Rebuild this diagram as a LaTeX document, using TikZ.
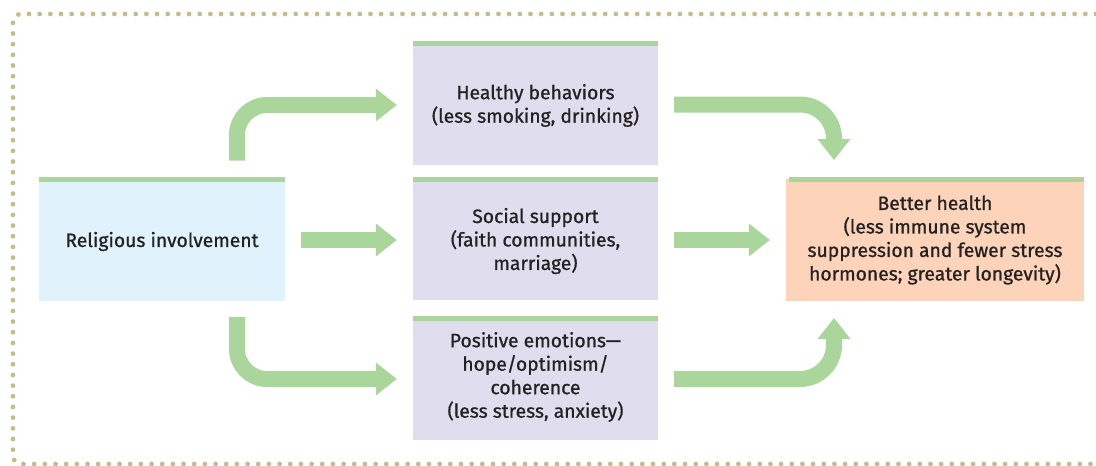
\documentclass[tikz,border=0pt]{standalone}
\usepackage{fontspec}
\setmainfont{Fira Sans}[FakeBold=0.9]
\usetikzlibrary{arrows.meta}
\definecolor{dotcol}{RGB}{196,188,138}
\definecolor{bargreen}{RGB}{171,214,155}
\definecolor{bluefill}{RGB}{224,242,251}
\definecolor{purplefill}{RGB}{224,221,238}
\definecolor{peachfill}{RGB}{253,211,185}
\definecolor{txt}{RGB}{35,33,33}
\tikzset{
  boxbase/.style={inner sep=0pt, align=center, text=txt,
    font=\fontsize{19.3pt}{23.5pt}\selectfont},
  bluebox/.style={boxbase, fill=bluefill},
  purplebox/.style={boxbase, fill=purplefill},
  peachbox/.style={boxbase, fill=peachfill},
  bigarrow/.style={draw=bargreen, line width=16pt,
    -{Triangle[width=33pt 0 0,length=21pt 0 0,line width=0pt,fill=bargreen]}},
  dotline/.style={draw=dotcol, line width=4.8pt, line cap=round,
    dash pattern=on 0pt off 10.67pt, rounded corners=8pt}
}
\begin{document}
\begin{tikzpicture}[x=1pt,y=-1pt]
\useasboundingbox (0,0) rectangle (1096,466);
% dotted frame
\draw[dotline] (1096,14) -- (13,14) -- (13,464) -- (1096,464);

% boxes
\node[bluebox, minimum width=246pt, minimum height=119pt] (ri) at (162,241.5) {Religious involvement};
\fill[bargreen] (39,176.5) rectangle (285,182);

\node[purplebox, minimum width=245pt, minimum height=119pt] (hb) at (535.5,105.5) {Healthy behaviors\\(less smoking, drinking)};
\fill[bargreen] (413,41) rectangle (658,46);

\node[purplebox, minimum width=245pt, minimum height=118pt] (ss) at (535.5,241) {Social support\\(faith communities,\\marriage)};
\fill[bargreen] (413,176.5) rectangle (658,182);

\node[purplebox, minimum width=245pt, minimum height=119pt] (pe) at (535.5,380.5) {};
\node[boxbase] (pet) at (535.5,377) {Positive emotions—\\hope/optimism/\\coherence\\(less stress, anxiety)};
\fill[bargreen] (413,315.5) rectangle (658,321);

\node[peachbox, minimum width=298pt, minimum height=122pt] (bh) at (935,240) {Better health\\(less immune system\\suppression and fewer stress\\hormones; greater longevity)};
\fill[bargreen] (789,176.5) rectangle (1084,182);

% connector ends
\coordinate (s1) at (237,160.5);
\coordinate (s4) at (237,317);
\coordinate (s5) at (674,104.5);
\coordinate (e5) at (834,160);
\coordinate (s6) at (674,379);
\coordinate (e6) at (834,318);

% arrows
\draw[bigarrow, rounded corners=30pt] (s1) -- (237,105) -- ([xshift=-16pt]hb.west |- 0,105);
\draw[bigarrow] ([xshift=16pt]ri.east |- 0,240) -- ([xshift=-16pt]ss.west |- 0,240);
\draw[bigarrow, rounded corners=30pt] (s4) -- (237,379) -- ([xshift=-16pt]pe.west |- 0,379);
\draw[bigarrow, rounded corners=34pt] (s5) -- (834,104.5) -- (e5);
\draw[bigarrow] ([xshift=16pt]ss.east |- 0,240) -- ([xshift=-16pt]bh.west |- 0,240);
\draw[bigarrow, rounded corners=34pt] (s6) -- (834,379) -- (e6);
\end{tikzpicture}
\end{document}
